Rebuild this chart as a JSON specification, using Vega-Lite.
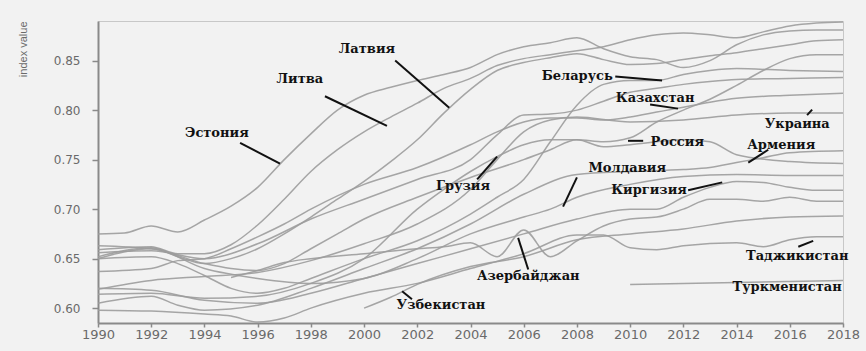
{
"$schema": "https://vega.github.io/schema/vega-lite/v6.json",
"width": 745, "height": 302,
"autosize": {"type": "none"},
"padding": {"left": 98, "top": 21, "right": 23, "bottom": 28},
"background": "#f2f2f2",
"config": {"view": {"stroke": "#c8c8c8", "strokeWidth": 1}},
"datasets": {
"lines": [
{"s":"E","x":1990,"y":0.675},{"s":"E","x":1991,"y":0.676},{"s":"E","x":1992,"y":0.683},{"s":"E","x":1993,"y":0.677},{"s":"E","x":1994,"y":0.689},{"s":"E","x":1995,"y":0.703},{"s":"E","x":1996,"y":0.722},{"s":"E","x":1997,"y":0.750},{"s":"E","x":1998,"y":0.776},{"s":"E","x":1999,"y":0.800},{"s":"E","x":2000,"y":0.815},{"s":"E","x":2001,"y":0.823},{"s":"E","x":2002,"y":0.830},{"s":"E","x":2003,"y":0.836},{"s":"E","x":2004,"y":0.843},{"s":"E","x":2005,"y":0.856},{"s":"E","x":2006,"y":0.864},{"s":"E","x":2007,"y":0.868},{"s":"E","x":2008,"y":0.873},{"s":"E","x":2009,"y":0.862},{"s":"E","x":2010,"y":0.854},{"s":"E","x":2011,"y":0.851},{"s":"E","x":2012,"y":0.843},{"s":"E","x":2013,"y":0.850},{"s":"E","x":2014,"y":0.866},{"s":"E","x":2015,"y":0.876},{"s":"E","x":2016,"y":0.880},{"s":"E","x":2017,"y":0.881},{"s":"E","x":2018,"y":0.881},
{"s":"Lt","x":1990,"y":0.659},{"s":"Lt","x":1992,"y":0.662},{"s":"Lt","x":1993,"y":0.655},{"s":"Lt","x":1994,"y":0.655},{"s":"Lt","x":1995,"y":0.664},{"s":"Lt","x":1996,"y":0.684},{"s":"Lt","x":1997,"y":0.710},{"s":"Lt","x":1998,"y":0.738},{"s":"Lt","x":1999,"y":0.760},{"s":"Lt","x":2000,"y":0.778},{"s":"Lt","x":2001,"y":0.793},{"s":"Lt","x":2002,"y":0.807},{"s":"Lt","x":2003,"y":0.822},{"s":"Lt","x":2004,"y":0.832},{"s":"Lt","x":2005,"y":0.845},{"s":"Lt","x":2006,"y":0.852},{"s":"Lt","x":2007,"y":0.856},{"s":"Lt","x":2008,"y":0.860},{"s":"Lt","x":2009,"y":0.864},{"s":"Lt","x":2010,"y":0.871},{"s":"Lt","x":2011,"y":0.876},{"s":"Lt","x":2012,"y":0.878},{"s":"Lt","x":2013,"y":0.876},{"s":"Lt","x":2014,"y":0.873},{"s":"Lt","x":2015,"y":0.879},{"s":"Lt","x":2016,"y":0.885},{"s":"Lt","x":2017,"y":0.888},{"s":"Lt","x":2018,"y":0.889},
{"s":"Lv","x":1990,"y":0.652},{"s":"Lv","x":1992,"y":0.661},{"s":"Lv","x":1993,"y":0.652},{"s":"Lv","x":1994,"y":0.645},{"s":"Lv","x":1995,"y":0.650},{"s":"Lv","x":1996,"y":0.660},{"s":"Lv","x":1997,"y":0.675},{"s":"Lv","x":1998,"y":0.692},{"s":"Lv","x":1999,"y":0.710},{"s":"Lv","x":2000,"y":0.728},{"s":"Lv","x":2001,"y":0.748},{"s":"Lv","x":2002,"y":0.770},{"s":"Lv","x":2003,"y":0.797},{"s":"Lv","x":2004,"y":0.821},{"s":"Lv","x":2005,"y":0.840},{"s":"Lv","x":2006,"y":0.848},{"s":"Lv","x":2007,"y":0.853},{"s":"Lv","x":2008,"y":0.857},{"s":"Lv","x":2009,"y":0.851},{"s":"Lv","x":2010,"y":0.846},{"s":"Lv","x":2011,"y":0.847},{"s":"Lv","x":2012,"y":0.851},{"s":"Lv","x":2013,"y":0.855},{"s":"Lv","x":2014,"y":0.858},{"s":"Lv","x":2015,"y":0.862},{"s":"Lv","x":2016,"y":0.866},{"s":"Lv","x":2017,"y":0.870},{"s":"Lv","x":2018,"y":0.871},
{"s":"Ru","x":1990,"y":0.663},{"s":"Ru","x":1992,"y":0.660},{"s":"Ru","x":1994,"y":0.645},{"s":"Ru","x":1995,"y":0.640},{"s":"Ru","x":1996,"y":0.638},{"s":"Ru","x":1997,"y":0.645},{"s":"Ru","x":1998,"y":0.660},{"s":"Ru","x":1999,"y":0.675},{"s":"Ru","x":2000,"y":0.690},{"s":"Ru","x":2002,"y":0.712},{"s":"Ru","x":2004,"y":0.732},{"s":"Ru","x":2006,"y":0.750},{"s":"Ru","x":2007,"y":0.760},{"s":"Ru","x":2008,"y":0.770},{"s":"Ru","x":2009,"y":0.768},{"s":"Ru","x":2010,"y":0.772},{"s":"Ru","x":2011,"y":0.788},{"s":"Ru","x":2012,"y":0.800},{"s":"Ru","x":2013,"y":0.811},{"s":"Ru","x":2014,"y":0.825},{"s":"Ru","x":2015,"y":0.840},{"s":"Ru","x":2016,"y":0.852},{"s":"Ru","x":2017,"y":0.856},{"s":"Ru","x":2018,"y":0.856},
{"s":"By","x":1990,"y":0.650},{"s":"By","x":1992,"y":0.652},{"s":"By","x":1993,"y":0.645},{"s":"By","x":1994,"y":0.633},{"s":"By","x":1995,"y":0.620},{"s":"By","x":1996,"y":0.615},{"s":"By","x":1997,"y":0.620},{"s":"By","x":1998,"y":0.630},{"s":"By","x":2000,"y":0.650},{"s":"By","x":2002,"y":0.668},{"s":"By","x":2004,"y":0.695},{"s":"By","x":2005,"y":0.712},{"s":"By","x":2006,"y":0.730},{"s":"By","x":2007,"y":0.768},{"s":"By","x":2008,"y":0.805},{"s":"By","x":2009,"y":0.826},{"s":"By","x":2010,"y":0.830},{"s":"By","x":2011,"y":0.830},{"s":"By","x":2012,"y":0.836},{"s":"By","x":2013,"y":0.840},{"s":"By","x":2014,"y":0.842},{"s":"By","x":2016,"y":0.840},{"s":"By","x":2018,"y":0.839},
{"s":"Kz","x":1990,"y":0.637},{"s":"Kz","x":1992,"y":0.640},{"s":"Kz","x":1993,"y":0.648},{"s":"Kz","x":1994,"y":0.650},{"s":"Kz","x":1995,"y":0.660},{"s":"Kz","x":1996,"y":0.672},{"s":"Kz","x":1997,"y":0.685},{"s":"Kz","x":1998,"y":0.700},{"s":"Kz","x":2000,"y":0.725},{"s":"Kz","x":2002,"y":0.742},{"s":"Kz","x":2004,"y":0.765},{"s":"Kz","x":2005,"y":0.778},{"s":"Kz","x":2006,"y":0.788},{"s":"Kz","x":2007,"y":0.792},{"s":"Kz","x":2008,"y":0.792},{"s":"Kz","x":2009,"y":0.790},{"s":"Kz","x":2010,"y":0.793},{"s":"Kz","x":2011,"y":0.798},{"s":"Kz","x":2012,"y":0.803},{"s":"Kz","x":2013,"y":0.808},{"s":"Kz","x":2014,"y":0.812},{"s":"Kz","x":2016,"y":0.815},{"s":"Kz","x":2018,"y":0.817},
{"s":"X7","x":1990,"y":0.656},{"s":"X7","x":1992,"y":0.658},{"s":"X7","x":1994,"y":0.650},{"s":"X7","x":1996,"y":0.665},{"s":"X7","x":1998,"y":0.690},{"s":"X7","x":2000,"y":0.710},{"s":"X7","x":2002,"y":0.730},{"s":"X7","x":2004,"y":0.750},{"s":"X7","x":2005,"y":0.775},{"s":"X7","x":2006,"y":0.795},{"s":"X7","x":2007,"y":0.796},{"s":"X7","x":2008,"y":0.800},{"s":"X7","x":2009,"y":0.809},{"s":"X7","x":2010,"y":0.818},{"s":"X7","x":2011,"y":0.822},{"s":"X7","x":2012,"y":0.826},{"s":"X7","x":2013,"y":0.829},{"s":"X7","x":2014,"y":0.831},{"s":"X7","x":2016,"y":0.832},{"s":"X7","x":2018,"y":0.833},
{"s":"Ua","x":1990,"y":0.619},{"s":"Ua","x":1992,"y":0.628},{"s":"Ua","x":1994,"y":0.632},{"s":"Ua","x":1996,"y":0.636},{"s":"Ua","x":1998,"y":0.648},{"s":"Ua","x":2000,"y":0.665},{"s":"Ua","x":2002,"y":0.685},{"s":"Ua","x":2004,"y":0.720},{"s":"Ua","x":2005,"y":0.750},{"s":"Ua","x":2006,"y":0.778},{"s":"Ua","x":2007,"y":0.790},{"s":"Ua","x":2008,"y":0.793},{"s":"Ua","x":2010,"y":0.788},{"s":"Ua","x":2012,"y":0.790},{"s":"Ua","x":2014,"y":0.795},{"s":"Ua","x":2016,"y":0.797},{"s":"Ua","x":2018,"y":0.797},
{"s":"Ge","x":1990,"y":0.614},{"s":"Ge","x":1992,"y":0.615},{"s":"Ge","x":1994,"y":0.610},{"s":"Ge","x":1996,"y":0.612},{"s":"Ge","x":1998,"y":0.625},{"s":"Ge","x":2000,"y":0.650},{"s":"Ge","x":2002,"y":0.700},{"s":"Ge","x":2003,"y":0.720},{"s":"Ge","x":2004,"y":0.738},{"s":"Ge","x":2005,"y":0.753},{"s":"Ge","x":2006,"y":0.765},{"s":"Ge","x":2007,"y":0.770},{"s":"Ge","x":2008,"y":0.770},{"s":"Ge","x":2009,"y":0.763},{"s":"Ge","x":2010,"y":0.765},{"s":"Ge","x":2012,"y":0.770},{"s":"Ge","x":2013,"y":0.768},{"s":"Ge","x":2014,"y":0.755},{"s":"Ge","x":2016,"y":0.748},{"s":"Ge","x":2018,"y":0.746},
{"s":"Am","x":1990,"y":0.605},{"s":"Am","x":1992,"y":0.612},{"s":"Am","x":1993,"y":0.603},{"s":"Am","x":1994,"y":0.598},{"s":"Am","x":1996,"y":0.603},{"s":"Am","x":1998,"y":0.620},{"s":"Am","x":2000,"y":0.640},{"s":"Am","x":2002,"y":0.660},{"s":"Am","x":2004,"y":0.685},{"s":"Am","x":2006,"y":0.715},{"s":"Am","x":2008,"y":0.735},{"s":"Am","x":2010,"y":0.738},{"s":"Am","x":2012,"y":0.740},{"s":"Am","x":2013,"y":0.742},{"s":"Am","x":2014,"y":0.747},{"s":"Am","x":2015,"y":0.752},{"s":"Am","x":2016,"y":0.757},{"s":"Am","x":2018,"y":0.759},
{"s":"Md","x":1990,"y":0.650},{"s":"Md","x":1992,"y":0.660},{"s":"Md","x":1994,"y":0.640},{"s":"Md","x":1996,"y":0.630},{"s":"Md","x":1998,"y":0.625},{"s":"Md","x":2000,"y":0.630},{"s":"Md","x":2002,"y":0.650},{"s":"Md","x":2004,"y":0.675},{"s":"Md","x":2006,"y":0.692},{"s":"Md","x":2007,"y":0.700},{"s":"Md","x":2008,"y":0.712},{"s":"Md","x":2010,"y":0.725},{"s":"Md","x":2012,"y":0.733},{"s":"Md","x":2014,"y":0.735},{"s":"Md","x":2016,"y":0.734},{"s":"Md","x":2018,"y":0.734},
{"s":"Kg","x":1990,"y":0.620},{"s":"Kg","x":1992,"y":0.618},{"s":"Kg","x":1994,"y":0.608},{"s":"Kg","x":1996,"y":0.605},{"s":"Kg","x":1998,"y":0.615},{"s":"Kg","x":2000,"y":0.630},{"s":"Kg","x":2002,"y":0.645},{"s":"Kg","x":2004,"y":0.660},{"s":"Kg","x":2006,"y":0.675},{"s":"Kg","x":2008,"y":0.690},{"s":"Kg","x":2010,"y":0.700},{"s":"Kg","x":2011,"y":0.700},{"s":"Kg","x":2012,"y":0.712},{"s":"Kg","x":2013,"y":0.722},{"s":"Kg","x":2014,"y":0.728},{"s":"Kg","x":2015,"y":0.727},{"s":"Kg","x":2016,"y":0.722},{"s":"Kg","x":2017,"y":0.719},{"s":"Kg","x":2018,"y":0.719},
{"s":"Az","x":1995,"y":0.631},{"s":"Az","x":1996,"y":0.638},{"s":"Az","x":1997,"y":0.646},{"s":"Az","x":1998,"y":0.650},{"s":"Az","x":2000,"y":0.655},{"s":"Az","x":2002,"y":0.660},{"s":"Az","x":2003,"y":0.662},{"s":"Az","x":2004,"y":0.666},{"s":"Az","x":2005,"y":0.652},{"s":"Az","x":2006,"y":0.679},{"s":"Az","x":2007,"y":0.652},{"s":"Az","x":2008,"y":0.668},{"s":"Az","x":2009,"y":0.683},{"s":"Az","x":2010,"y":0.690},{"s":"Az","x":2011,"y":0.692},{"s":"Az","x":2012,"y":0.700},{"s":"Az","x":2013,"y":0.710},{"s":"Az","x":2014,"y":0.710},{"s":"Az","x":2015,"y":0.708},{"s":"Az","x":2016,"y":0.712},{"s":"Az","x":2017,"y":0.708},{"s":"Az","x":2018,"y":0.708},
{"s":"Tj","x":1990,"y":0.598},{"s":"Tj","x":1992,"y":0.597},{"s":"Tj","x":1994,"y":0.594},{"s":"Tj","x":1995,"y":0.592},{"s":"Tj","x":1996,"y":0.586},{"s":"Tj","x":1997,"y":0.590},{"s":"Tj","x":1998,"y":0.600},{"s":"Tj","x":2000,"y":0.615},{"s":"Tj","x":2002,"y":0.625},{"s":"Tj","x":2004,"y":0.640},{"s":"Tj","x":2006,"y":0.655},{"s":"Tj","x":2008,"y":0.674},{"s":"Tj","x":2009,"y":0.674},{"s":"Tj","x":2010,"y":0.661},{"s":"Tj","x":2011,"y":0.659},{"s":"Tj","x":2012,"y":0.663},{"s":"Tj","x":2014,"y":0.666},{"s":"Tj","x":2015,"y":0.662},{"s":"Tj","x":2016,"y":0.669},{"s":"Tj","x":2017,"y":0.672},{"s":"Tj","x":2018,"y":0.672},
{"s":"Uz","x":2000,"y":0.600},{"s":"Uz","x":2001,"y":0.611},{"s":"Uz","x":2002,"y":0.624},{"s":"Uz","x":2004,"y":0.642},{"s":"Uz","x":2006,"y":0.652},{"s":"Uz","x":2008,"y":0.669},{"s":"Uz","x":2010,"y":0.675},{"s":"Uz","x":2012,"y":0.680},{"s":"Uz","x":2014,"y":0.688},{"s":"Uz","x":2016,"y":0.692},{"s":"Uz","x":2018,"y":0.693},
{"s":"Tm","x":2010,"y":0.624},{"s":"Tm","x":2012,"y":0.625},{"s":"Tm","x":2014,"y":0.626},{"s":"Tm","x":2016,"y":0.627},{"s":"Tm","x":2018,"y":0.628}
],
"leaders": [
{"x1":1995.34,"y1":0.767,"x2":1996.84,"y2":0.746},
{"x1":1998.53,"y1":0.814,"x2":2000.86,"y2":0.784},
{"x1":2001.17,"y1":0.850,"x2":2003.2,"y2":0.8025},
{"x1":2009.44,"y1":0.834,"x2":2011.2,"y2":0.830},
{"x1":2010.75,"y1":0.8056,"x2":2011.8,"y2":0.8015},
{"x1":2009.92,"y1":0.769,"x2":2010.49,"y2":0.769},
{"x1":2016.65,"y1":0.795,"x2":2016.84,"y2":0.8005},
{"x1":2014.44,"y1":0.747,"x2":2015.19,"y2":0.760},
{"x1":2008.0,"y1":0.732,"x2":2007.48,"y2":0.7025},
{"x1":2004.25,"y1":0.730,"x2":2005.0,"y2":0.753},
{"x1":2012.18,"y1":0.719,"x2":2013.46,"y2":0.727},
{"x1":2006.17,"y1":0.639,"x2":2005.79,"y2":0.671},
{"x1":2001.43,"y1":0.617,"x2":2001.80,"y2":0.609},
{"x1":2016.32,"y1":0.662,"x2":2016.88,"y2":0.668}
],
"labels": [
{"t":"Эстония","x":1994.47,"y":0.777},
{"t":"Литва","x":1997.59,"y":0.831},
{"t":"Латвия","x":2000.11,"y":0.862},
{"t":"Беларусь","x":2008.01,"y":0.834},
{"t":"Казахстан","x":2010.94,"y":0.812},
{"t":"Россия","x":2011.77,"y":0.768},
{"t":"Украина","x":2016.28,"y":0.786},
{"t":"Армения","x":2015.68,"y":0.765},
{"t":"Молдавия","x":2009.89,"y":0.742},
{"t":"Грузия","x":2003.72,"y":0.723},
{"t":"Киргизия","x":2010.71,"y":0.719},
{"t":"Азербайджан","x":2006.17,"y":0.632},
{"t":"Узбекистан","x":2002.89,"y":0.603},
{"t":"Таджикистан","x":2016.28,"y":0.653},
{"t":"Туркменистан","x":2015.9,"y":0.621}
]
},
"layer": [
{"data": {"name": "lines"},
 "mark": {"type": "line", "interpolate": "monotone", "stroke": "#9c9c9c", "strokeWidth": 1.5, "opacity": 0.9, "clip": true},
 "encoding": {
  "x": {"field": "x", "type": "quantitative", "scale": {"domain": [1990, 2018], "nice": false, "zero": false},
        "axis": {"values": [1990,1992,1994,1996,1998,2000,2002,2004,2006,2008,2010,2012,2014,2016,2018], "format": "d", "title": null, "grid": false,
                 "domainColor": "#8a8a8a", "domainWidth": 2, "tickColor": "#8a8a8a", "tickWidth": 1.5, "tickSize": 4,
                 "labelFont": "DejaVu Sans", "labelFontSize": 13, "labelColor": "#6a6a6a", "labelPadding": 1, "labelFlush": false}},
  "y": {"field": "y", "type": "quantitative", "scale": {"domain": [0.585, 0.89], "nice": false, "zero": false},
        "axis": {"values": [0.60,0.65,0.70,0.75,0.80,0.85], "format": ".2f", "grid": false, "title": "index value",
                 "domainColor": "#8a8a8a", "domainWidth": 2, "tickColor": "#8a8a8a", "tickWidth": 1.5, "tickSize": 6,
                 "labelFont": "DejaVu Sans", "labelFontSize": 12, "labelColor": "#6a6a6a", "labelPadding": 12,
                 "titleFont": "Liberation Sans", "titleFontWeight": "normal", "titleFontSize": 11, "titleColor": "#6a6a6a",
                 "titleAngle": 270, "titleX": -75, "titleY": 0, "titleAlign": "right", "titleBaseline": "middle"}},
  "detail": {"field": "s"}
 }},
{"data": {"name": "leaders"},
 "mark": {"type": "rule", "stroke": "#111111", "strokeWidth": 2},
 "encoding": {
  "x": {"field": "x1", "type": "quantitative"},
  "y": {"field": "y1", "type": "quantitative"},
  "x2": {"field": "x2"},
  "y2": {"field": "y2"}
 }},
{"data": {"name": "labels"},
 "mark": {"type": "text", "font": "DejaVu Serif", "fontWeight": "bold", "fontSize": 13, "fill": "#111111", "baseline": "middle", "align": "center"},
 "encoding": {
  "x": {"field": "x", "type": "quantitative"},
  "y": {"field": "y", "type": "quantitative"},
  "text": {"field": "t"}
 }}
]
}
